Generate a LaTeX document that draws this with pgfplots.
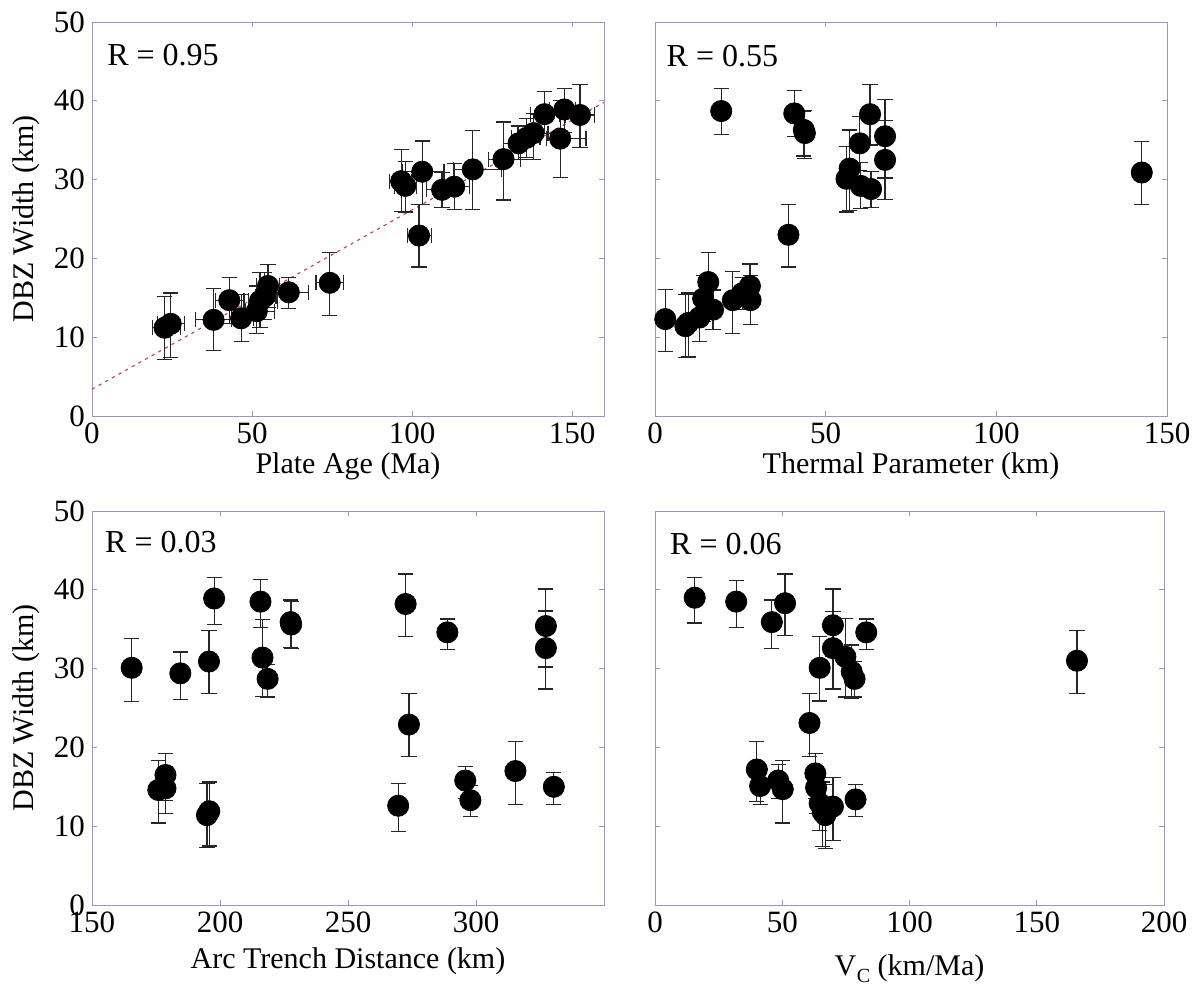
\documentclass[border=0pt]{standalone}
\usepackage{fontspec}
\setmainfont{Liberation Serif}
\usepackage{pgfplots}
\usepackage{pgfplotstable}
\pgfplotsset{compat=1.18}
\definecolor{axcol}{RGB}{150,150,195}
\definecolor{fitred}{RGB}{200,70,90}

\pgfplotstableread{
x y xlo xhi ylo yhi
22.7 11.2 19 27.7 7.2 15.2
24.6 11.7 20.5 29 7.4 15.6
38.0 12.2 32.3 43.5 8.3 16.2
42.9 14.7 38.5 47.5 11.7 17.6
46.6 12.4 43.5 50.5 9.5 15.4
51.5 13.3 48 57 10.5 16.5
52.5 14.6 49 58 11.2 18.2
54 15.2 51 57.5 12.2 18.2
55 16.5 51.5 58.5 13.8 19.2
61.5 15.7 53.5 67.7 13.6 17.6
74.3 16.9 70 78.5 12.8 20.8
96.6 29.8 93 100 26 33.8
97.9 29.2 94.5 101.5 25.9 32.3
102.2 22.9 98.5 106 18.9 26.8
103.2 31.0 97 110 26.8 34.9
109.4 28.7 104.5 114.5 26.5 30.9
113.2 29.1 108.5 118 26.2 32.0
119 31.3 113 128 26.2 36.2
128.6 32.6 124 134 27.4 37.3
133.3 34.6 128.5 138 32.6 36.8
135.8 35.3 131 140 32.8 37.8
138 35.9 133 142.5 32.6 38.4
141.4 38.3 137 146 35.8 41.2
147.6 38.9 143 151 36 41.6
146.3 35.2 142 154.4 30.3 40
152.5 38.2 148 157 34.1 42.1
}\tA

\pgfplotstableread{
x y ylo yhi
3.0 12.3 8.2 16.1
8.9 11.4 7.4 15.4
9.7 11.8 7.5 15.6
13 12.5 9.5 15.4
14.1 14.9 12.0 17.8
15.6 17.0 12.8 20.8
17 13.5 11.0 16.0
19.4 38.7 35.7 41.6
22.8 14.7 10.5 18.3
25.6 15.6 13.5 17.6
27.8 16.5 13.8 19.3
28 14.7 11.6 17.8
39.1 23.0 18.9 26.8
40.8 38.4 35.5 41.3
43.9 35.9 32.7 38.8
43.6 36.3 33.0 38.6
56.1 30.1 25.9 34.2
57 31.4 26.1 36.3
60 34.6 31.2 38.0
60.3 29.2 26.3 32.2
63.3 28.8 26.5 31.0
63 38.3 34.4 42.1
67.4 35.5 30.2 40.2
67.4 32.5 27.5 37.5
142.6 30.9 26.8 34.8
}\tB

\pgfplotstableread{
x y ylo yhi
165.5 30.1 25.8 33.8
175.9 14.6 10.4 18.3
178.7 16.5 13.3 19.2
178.7 14.8 11.6 17.6
184.5 29.4 26.1 32.1
195.7 30.9 26.8 34.8
194.9 11.4 7.3 15.4
195.8 11.9 7.5 15.6
197.7 38.9 35.6 41.6
215.8 38.5 35.2 41.3
216.6 31.4 26.5 36.2
218.6 28.7 26.4 30.5
227.6 35.9 32.7 38.7
227.8 35.6 32.6 38.5
269.6 12.6 9.3 15.4
272.5 38.2 34.1 42.0
273.8 22.9 18.8 26.8
288.8 34.6 32.4 36.3
295.8 15.8 13.5 17.6
297.8 13.3 11.2 15.2
315.4 17.0 12.8 20.8
327.3 35.4 30.2 40.1
327.3 32.6 27.4 37.3
330.4 15.0 12.8 16.8
}\tC

\pgfplotstableread{
x y ylo yhi
15.6 39.0 35.8 41.6
31.9 38.5 35.2 41.2
45.9 35.9 32.6 38.7
51.1 38.3 34.2 42.0
69.9 35.5 31.6 40.1
69.9 32.6 27.4 37.2
83 34.6 32.4 36.3
74.8 31.5 26.4 36.4
64.7 30.1 25.9 34.1
77.3 29.6 26.2 33.0
78.4 28.7 26.4 30.9
60.7 23.1 18.8 26.8
40 17.2 13.1 20.8
41.3 15.1 12.8 17.3
48.4 15.8 13.5 17.8
50.2 14.7 10.4 18.3
63 16.7 13.5 19.2
63.3 14.9 11.6 17.6
64.7 12.9 9.5 15.5
65.9 11.8 7.4 15.6
66.9 11.4 7.2 15.3
69.9 12.5 8.2 16.2
78.8 13.4 11.2 15.3
165.8 31.0 26.8 34.8
}\tD

\tikzset{rlab/.style={anchor=west, inner sep=0pt, font=\fontsize{16}{18}\selectfont}}

\pgfplotsset{
  dbz/.style={
    scale only axis, width=256pt, height=197pt,
    anchor=north west,
    ymin=0, ymax=50, ytick={0,10,20,30,40,50},
    axis line style={axcol, line width=0.5pt},
    tick style={axcol, line width=0.5pt},
    major tick length=2.5pt,
    tick align=inside,
    tick pos=both,
    xticklabel pos=bottom, yticklabel pos=left,
    tick label style={font=\fontsize{15.5}{17}\selectfont, black},
    /pgf/number format/assume math mode=true,
    label style={font=\fontsize{15}{17}\selectfont, black},
    xlabel style={at={([yshift=-25pt]axis description cs:0.5,0)}, anchor=center},
    ylabel style={at={([xshift=-33pt]axis description cs:0,0.5)}, anchor=center},
    clip=false,
  },
  pts/.style={only marks, mark=*, mark size=5.3pt, black,
    mark options={fill=black, draw=black, line width=0.4pt}},
  error bars/eb/.style={error bar style={black!85, line width=0.6pt},
    error mark=|,
    error mark options={black!85, mark size=3.8pt, line width=0.6pt}},
}

\begin{document}
\begin{tikzpicture}
% Panel 1
\begin{axis}[dbz, at={(46pt,-11pt)}, xmin=0, xmax=160, xtick={0,50,100,150},
  xlabel={Plate Age (Ma)}, ylabel={DBZ Width (km)}]
\addplot[fitred, line width=0.6pt, dash pattern=on 1.6pt off 2.2pt] coordinates {(0,3.4) (160,39.8)};
\addplot[pts, error bars/.cd, x dir=both, x explicit, y dir=both, y explicit, eb]
  table[x=x, y=y,
    x error plus expr=\thisrow{xhi}-\thisrow{x}, x error minus expr=\thisrow{x}-\thisrow{xlo},
    y error plus expr=\thisrow{yhi}-\thisrow{y}, y error minus expr=\thisrow{y}-\thisrow{ylo}] {\tA};
\node[rlab] at (axis description cs:0.029,0.916) {R = 0.95};
\end{axis}
% Panel 2
\begin{axis}[dbz, at={(327.5pt,-11pt)}, xmin=0, xmax=150, xtick={0,50,100,150},
  yticklabels={}, xlabel={Thermal Parameter (km)}]
\addplot[pts, error bars/.cd, y dir=both, y explicit, eb]
  table[x=x, y=y,
    y error plus expr=\thisrow{yhi}-\thisrow{y}, y error minus expr=\thisrow{y}-\thisrow{ylo}] {\tB};
\node[rlab] at (axis description cs:0.022,0.914) {R = 0.55};
\end{axis}
% Panel 3
\begin{axis}[dbz, at={(46pt,-255.5pt)}, xmin=150, xmax=350, xtick={150,200,250,300},
  xlabel={Arc Trench Distance (km)}, ylabel={DBZ Width (km)},
  xlabel style={at={([yshift=-28pt]axis description cs:0.5,0)}, anchor=center}]
\addplot[pts, error bars/.cd, y dir=both, y explicit, eb]
  table[x=x, y=y,
    y error plus expr=\thisrow{yhi}-\thisrow{y}, y error minus expr=\thisrow{y}-\thisrow{ylo}] {\tC};
\node[rlab] at (axis description cs:0.025,0.921) {R = 0.03};
\end{axis}
% Panel 4
\begin{axis}[dbz, at={(327.5pt,-255.5pt)}, width=254.5pt, xmin=0, xmax=200, xtick={0,50,100,150,200},
  yticklabels={}, xlabel={V\kern0.3pt\raisebox{-0.5ex}{\fontsize{10}{10}\selectfont C} (km/Ma)},
  xlabel style={at={([yshift=-32pt]axis description cs:0.5,0)}, anchor=center}]
\addplot[pts, error bars/.cd, y dir=both, y explicit, eb]
  table[x=x, y=y,
    y error plus expr=\thisrow{yhi}-\thisrow{y}, y error minus expr=\thisrow{y}-\thisrow{ylo}] {\tD};
\node[rlab] at (axis description cs:0.029,0.916) {R = 0.06};
\end{axis}
\pgfresetboundingbox
\path[use as bounding box] (0,0) rectangle (599pt,-492.5pt);
\end{tikzpicture}
\end{document}
